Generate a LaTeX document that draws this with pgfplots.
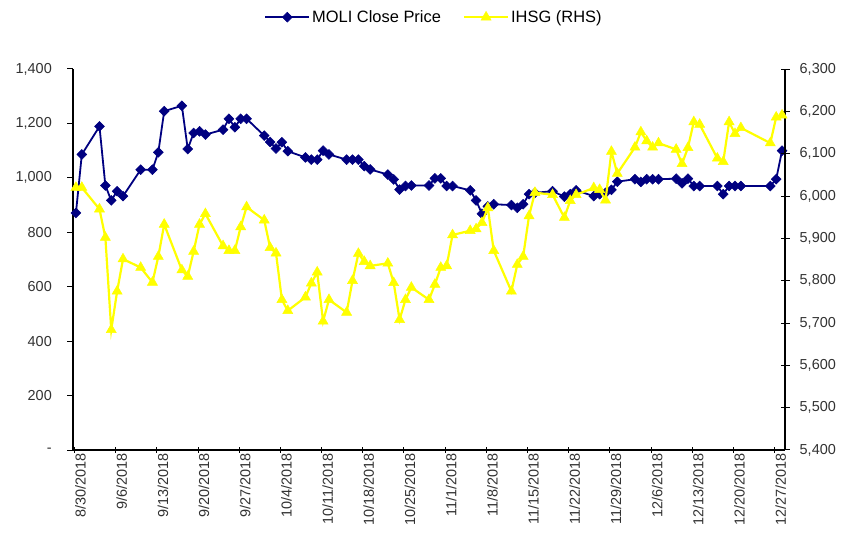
\documentclass[border=0pt]{standalone}
\usepackage{pgfplots}
\usepackage{pgfplotstable}
\pgfplotsset{compat=1.18}
\usepackage{fontspec}
\setmainfont{Liberation Sans}
\definecolor{moli}{RGB}{0,0,128}
\definecolor{ihsg}{RGB}{255,255,0}
\definecolor{lbl}{RGB}{50,50,50}

% d = days since 30 Aug 2018
\pgfplotstableread{
d moli ihsg
0 871 6020
1 1086 6020
4 1189 5969
5 972 5902
6 917 5684
7 951 5775
8 933 5851
11 1030 5831
13 1030 5796
14 1094 5857
15 1245 5933
18 1265 5825
19 1106 5810
20 1165 5869
21 1171 5933
22 1159 5958
25 1177 5882
26 1217 5871
27 1186 5871
28 1217 5927
29 1217 5974
32 1155 5943
33 1132 5878
34 1108 5865
35 1131 5755
36 1098 5729
39 1075 5761
40 1067 5794
41 1067 5820
42 1100 5704
43 1086 5755
46 1067 5725
47 1067 5800
48 1067 5864
49 1043 5845
50 1031 5835
53 1012 5841
54 994 5795
55 957 5708
56 970 5755
57 972 5784
60 972 5755
61 998 5791
62 998 5831
63 970 5835
64 970 5908
67 954 5918
68 917 5922
69 868 5937
70 895 5972
71 903 5871
74 900 5775
75 890 5838
76 903 5857
77 940 5953
78 945 6008
81 951 6003
83 931 5949
84 940 5989
85 954 6003
88 933 6019
89 940 6015
90 945 5990
91 956 6105
92 986 6053
95 995 6115
96 985 6151
97 995 6130
98 995 6115
99 995 6125
102 997 6110
103 980 6076
104 997 6114
105 970 6175
106 970 6169
109 970 6089
110 940 6081
111 970 6175
112 970 6147
113 970 6161
118 970 6125
119 995 6186
120 1100 6191
}\datatable

\pgfplotsset{
  common/.style={
    scale only axis, width=712bp, height=381bp,
    at={(73bp,95bp)}, anchor=south west,
    xmin=-0.5, xmax=120.5,
    axis line style={line width=1.2bp, black},
    major tick style={line width=1bp, black},
    tick label style={font=\fontsize{14.5}{16}\selectfont, text=lbl},
    /pgf/number format/assume math mode=true,
    clip=false,
  },
  moliline/.style={color=moli, line width=1.8bp, mark=square*, mark size=3.5bp,
    mark options={rotate=45, fill=moli, draw=moli, line width=0.5bp}},
  ihsgline/.style={color=ihsg, line width=2.2bp, mark=triangle*, mark size=5.8bp,
    mark options={fill=ihsg, draw=ihsg, line width=0.5bp}},
}

\begin{document}
\begin{tikzpicture}
\useasboundingbox (0,0) rectangle (845bp,545bp);
\begin{axis}[
  common,
  ymin=0, ymax=1400,
  axis x line*=bottom, axis y line*=left,
  xtick={-0.25,6.75,...,118.75},
  xticklabels={8/30/2018,9/6/2018,9/13/2018,9/20/2018,9/27/2018,10/4/2018,10/11/2018,10/18/2018,10/25/2018,11/1/2018,11/8/2018,11/15/2018,11/22/2018,11/29/2018,12/6/2018,12/13/2018,12/20/2018,12/27/2018},
  xticklabel style={rotate=90, anchor=east, inner sep=0pt, xshift=0bp, yshift=-6bp},
  x tick style={line width=1bp},
  xtick align=center, 
  ytick={0,200,...,1400},
  yticklabels={{-},{200},{400},{600},{800},{1,000},{1,200},{1,400}},
  ytick align=outside,
  major tick length=6bp,
  yticklabel style={inner sep=0pt, xshift=-15bp},
  legend style={at={(0.507,1.136)}, anchor=center, draw=none, fill=none,
    legend columns=2, font=\fontsize{16.5}{18}\selectfont,
    /tikz/every even column/.append style={column sep=20bp}},
  legend image code/.code={\draw[mark repeat=2,mark phase=2] plot coordinates {(0bp,0bp) (22bp,0bp) (44bp,0bp)};},
]
\addplot[moliline] table[x=d, y=moli] {\datatable};
\addlegendentry{MOLI Close Price}
\addlegendimage{ihsgline}
\addlegendentry{IHSG (RHS)}
\end{axis}
\begin{axis}[
  common,
  ymin=5400, ymax=6300,
  axis x line=none, axis y line*=right,
  ytick={5400,5500,...,6300},
  ytick align=center,
  major tick length=9bp,
  /pgf/number format/.cd, 1000 sep={,},
  /pgfplots/.cd,
  yticklabel style={inner sep=0pt, xshift=10bp},
]
\addplot[ihsgline] table[x=d, y=ihsg] {\datatable};
\end{axis}
\end{tikzpicture}
\end{document}
